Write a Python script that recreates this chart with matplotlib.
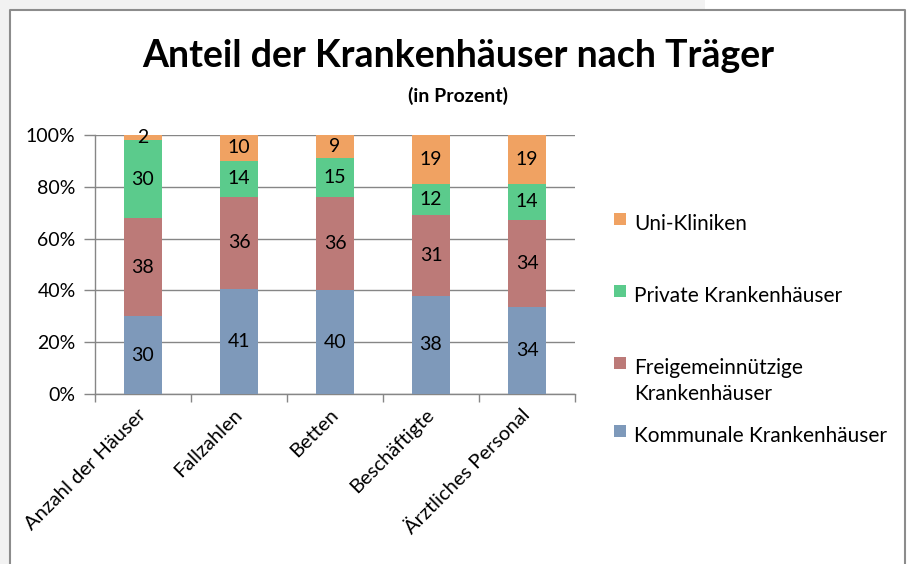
import matplotlib
matplotlib.use("Agg")
import matplotlib.pyplot as plt
from matplotlib.patches import Rectangle
from matplotlib.lines import Line2D
import numpy as np

plt.rcParams["font.family"] = ["Lato", "DejaVu Sans"]

# data (Anteil in Prozent, as printed in the bars)
categories = ["Anzahl der Häuser", "Fallzahlen", "Betten", "Beschäftigte", "Ärztliches Personal"]
series_names = ["Kommunale Krankenhäuser", "Freigemeinnützige\nKrankenhäuser",
                "Private Krankenhäuser", "Uni-Kliniken"]
kommunal = [30, 41, 40, 38, 34]
freigemein = [38, 36, 36, 31, 34]
privat = [30, 14, 15, 12, 14]
uni = [2, 10, 9, 19, 19]
colors = ["#7E99BA", "#BC7A78", "#5BCB8C", "#F0A262"]

W, H = 912, 564
fig = plt.figure(figsize=(W / 100, H / 100), dpi=100)
fig.patch.set_facecolor("white")


def fx(px):
    return px / W


def fy(py):
    return 1 - py / H


# grey surround + chart frame
fig.add_artist(Rectangle((0, 0), fx(10), 1, transform=fig.transFigure,
                         facecolor="#F2F2F2", edgecolor="none", zorder=0))
fig.add_artist(Rectangle((0, fy(10)), fx(705), 10 / H, transform=fig.transFigure,
                         facecolor="#F2F2F2", edgecolor="none", zorder=0))
fig.add_artist(Line2D([fx(10), fx(10), fx(905), fx(905)], [0, fy(10), fy(10), 0],
                      transform=fig.transFigure, color="#8C8C8C", lw=1.5))

ax = fig.add_axes([fx(95), fy(394), fx(575) - fx(95), (394 - 135) / H])

values = np.array([kommunal, freigemein, privat, uni], dtype=float)
shares = values / values.sum(axis=0) * 100
x = np.arange(len(categories))
bottom = np.zeros(len(categories))
for name, raw, share, col in zip(series_names, values, shares, colors):
    ax.bar(x, share, 0.4, bottom=bottom, color=col, zorder=3)
    for xi, b, s, v in zip(x, bottom, share, raw):
        ax.text(xi, b + s / 2, f"{int(v)}", ha="center", va="center",
                fontsize=14, color="black", zorder=4)
    bottom += share

ax.set_xlim(-0.5, len(categories) - 0.5)
ax.set_ylim(0, 100)
ax.set_yticks(np.arange(0, 101, 20))
ax.set_yticklabels([f"{v}%" for v in range(0, 101, 20)], fontsize=14)
ax.yaxis.grid(True, color="#868686", lw=1, zorder=1)
ax.set_axisbelow(True)

ax.set_xticks(x)
ax.set_xticklabels(categories, rotation=45, ha="right", va="center",
                   rotation_mode="anchor", fontsize=14.5)
ax.set_xticks(np.arange(-0.5, len(categories)), minor=True)
ax.tick_params(axis="x", which="major", length=0, pad=13)
ax.tick_params(axis="x", which="minor", length=6, color="#868686", width=1)
ax.tick_params(axis="y", length=8, color="#868686", width=1, pad=6)

for side in ["top", "right"]:
    ax.spines[side].set_visible(False)
for side in ["left", "bottom"]:
    ax.spines[side].set_color("#868686")
    ax.spines[side].set_linewidth(1)

# titles
fig.text(fx(458), fy(56), "Anteil der Krankenhäuser nach Träger", ha="center",
         va="center", fontsize=27, fontweight="bold")
fig.text(fx(458), fy(96), "(in Prozent)", ha="center", va="center",
         fontsize=14, fontweight="bold")

# legend (reverse order, top to bottom)
legend_y = [434, 366, 294, 222]
for name, col, ly in zip(series_names, colors, legend_y):
    fig.add_artist(Rectangle((fx(614), fy(ly + 3)), fx(12), 12 / H,
                             transform=fig.transFigure, facecolor=col,
                             edgecolor="none"))
    fig.text(fx(634), fy(ly - 8), name, ha="left", va="top", fontsize=15,
             linespacing=1.4)

fig.savefig("out.png", dpi=100, facecolor=fig.get_facecolor())
